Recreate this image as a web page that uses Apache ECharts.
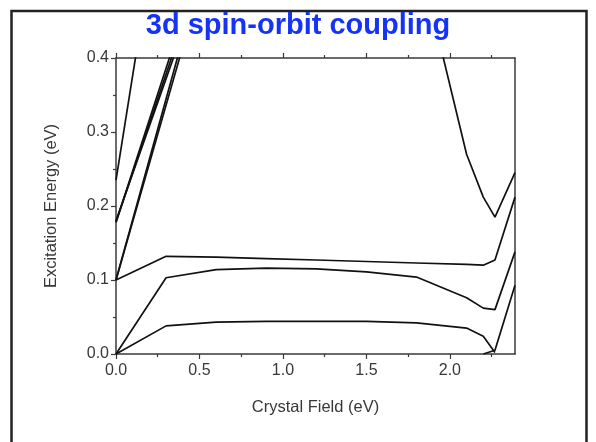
<!DOCTYPE html>
<html>
<head>
<meta charset="utf-8">
<script src="https://cdn.jsdelivr.net/npm/echarts@6/dist/echarts.min.js"></script>
<style>
html,body{margin:0;padding:0;background:#fff;}
#chart{width:596px;height:442px;}
</style>
</head>
<body>
<div id="chart"></div>
<script>
// ---- data ----
const titleText = '3d spin-orbit coupling';
const xName = 'Crystal Field (eV)';
const yName = 'Excitation Energy (eV)';
const xMajorTicks = [0, 0.5, 1.0, 1.5, 2.0];
const xMinorTicks = [0.25, 0.75, 1.25, 1.75, 2.25];

// low-lying levels sampled on a common crystal-field grid
const crystalField = [0, 0.3, 0.6, 0.9, 1.2, 1.5, 1.8, 2.1, 2.2, 2.27, 2.39];
const levelTop    = [0.100, 0.132, 0.131, 0.129, 0.127, 0.125, 0.123, 0.121, 0.120, 0.127, 0.212];
const levelMid    = [0.000, 0.103, 0.114, 0.116, 0.115, 0.111, 0.104, 0.076, 0.062, 0.060, 0.138];
const levelLow    = [0.000, 0.038, 0.043, 0.044, 0.044, 0.044, 0.042, 0.035, 0.024, 0.002, null];

// steep branches rising from the left axis
const steepX   = [0, 0.5];
const steepA   = [0.235, 0.943];
const steepB1  = [0.178, 0.525];
const steepB2  = [0.178, 0.512];
const steepB3  = [0.180, 0.500];
const steepC1  = [0.100, 0.508];
const steepC2  = [0.100, 0.494];

// branches at the right side
const rightX1  = [1.8, 2.1, 2.2, 2.27, 2.39];
const rightY1  = [0.55, 0.27, 0.212, 0.185, 0.245];
const rightX2  = [2.2, 2.27, 2.39];
const rightY2  = [0.0, 0.005, 0.093];

// ---- build ----
function pairs(xs, ys){ return xs.map((x,i)=>[x, ys[i]]); }
const curves = [
  pairs(crystalField, levelTop),
  pairs(crystalField, levelMid),
  pairs(crystalField, levelLow),
  pairs(steepX, steepA),
  pairs(steepX, steepB1),
  pairs(steepX, steepB2),
  pairs(steepX, steepB3),
  pairs(steepX, steepC1),
  pairs(steepX, steepC2),
  pairs(rightX1, rightY1),
  pairs(rightX2, rightY2)
];

const axisColor = '#3a3a3a';
const textColor = '#383838';
const font = 'Liberation Sans, Arial, sans-serif';

const chart = echarts.init(document.getElementById('chart'), null, {renderer:'canvas'});
chart.setOption({
  animation:false,
  backgroundColor:'#fff',
  title:{
    text:titleText, left:'center', top:6,
    textStyle:{color:'#1533f5', fontSize:29, fontWeight:'bold', fontFamily:font}
  },
  graphic:[{
    type:'rect', shape:{x:11.5, y:11, width:575, height:460},
    style:{fill:'none', stroke:'#222', lineWidth:2.5}, silent:true, z:-1
  }],
  grid:{left:116, right:81, top:58, bottom:88, containLabel:false},
  xAxis:[{
    type:'value', min:0, max:2.39, position:'bottom',
    name:xName, nameLocation:'middle', nameGap:45,
    nameTextStyle:{color:textColor, fontSize:16.5, fontFamily:font},
    axisLine:{show:true, onZero:false, lineStyle:{color:axisColor, width:1.5}},
    axisTick:{show:true, inside:false, length:5, customValues:xMajorTicks, lineStyle:{color:axisColor, width:1.2}},
    axisLabel:{show:true, margin:9, color:textColor, fontSize:16, fontFamily:font,
      customValues:xMajorTicks, formatter:v=>v.toFixed(1)},
    splitLine:{show:false}
  },{
    type:'value', min:0, max:2.39, position:'top',
    axisLine:{show:true, onZero:false, lineStyle:{color:axisColor, width:1.5}},
    axisTick:{show:true, inside:false, length:5, customValues:xMajorTicks, lineStyle:{color:axisColor, width:1.2}},
    axisLabel:{show:false}, splitLine:{show:false}
  },{
    type:'value', min:0, max:2.39, position:'bottom',
    axisLine:{show:false, onZero:false},
    axisTick:{show:true, inside:false, length:3, customValues:xMinorTicks, lineStyle:{color:axisColor, width:1.2}},
    axisLabel:{show:false}, splitLine:{show:false}
  },{
    type:'value', min:0, max:2.39, position:'top',
    axisLine:{show:false, onZero:false},
    axisTick:{show:true, inside:false, length:3, customValues:xMinorTicks, lineStyle:{color:axisColor, width:1.2}},
    axisLabel:{show:false}, splitLine:{show:false}
  }],
  yAxis:[{
    type:'value', min:0, max:0.4, interval:0.1, position:'left',
    name:yName, nameLocation:'middle', nameGap:56, nameRotate:90,
    nameTextStyle:{color:textColor, fontSize:16.5, fontFamily:font},
    axisLine:{show:true, onZero:false, lineStyle:{color:axisColor, width:1.5}},
    axisTick:{show:true, inside:false, length:5, lineStyle:{color:axisColor, width:1.2}},
    minorTick:{show:true, splitNumber:2, length:3, lineStyle:{color:axisColor, width:1.2}},
    axisLabel:{show:true, margin:7, color:textColor, fontSize:16, fontFamily:font, formatter:v=>v.toFixed(1)},
    splitLine:{show:false}, minorSplitLine:{show:false}
  },{
    type:'value', min:0, max:0.4, interval:0.1, position:'right',
    axisLine:{show:true, onZero:false, lineStyle:{color:axisColor, width:1.5}},
    axisTick:{show:false}, axisLabel:{show:false}, splitLine:{show:false}
  }],
  series:curves.map(d=>({
    type:'line', data:d, xAxisIndex:0, yAxisIndex:0,
    showSymbol:false, symbol:'none', clip:true, connectNulls:false,
    lineStyle:{color:'#111', width:1.7}, silent:true
  }))
});
</script>
</body>
</html>
